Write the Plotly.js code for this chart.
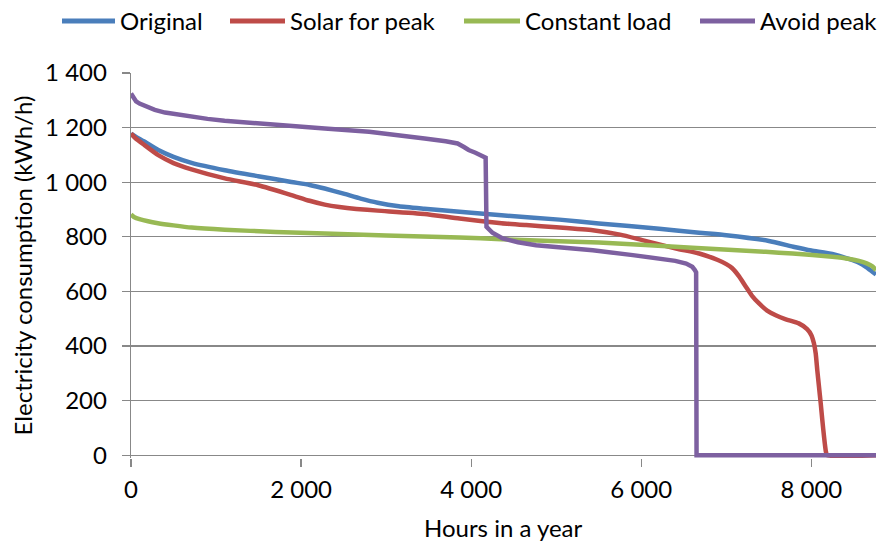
<!DOCTYPE html>
<html><head><meta charset="utf-8">
<script src="https://cdn.plot.ly/plotly-3.0.1.min.js"></script>
<style>html,body{margin:0;padding:0;background:#fff}#chart{width:880px;height:548px}</style>
</head><body><div id="chart"></div>
<script>
const seriesNames = ["Original", "Solar for peak", "Constant load", "Avoid peak"];
const seriesColors = ["#4A7EBB", "#BE4B48", "#98B954", "#7D60A0"];
const xTitle = "Hours in a year";
const yTitle = "Electricity consumption (kWh/h)";

const hoursOriginal = [0,50,150,321,500,712,1103,1495,1886,2100,2278,2500,2700,2900,3150,3450,4000,4356,5037,5500,6211,6681,7000,7500,7800,8000,8246,8450,8560,8650,8717,8760];
const original =      [1178,1168,1150,1118,1093,1071,1044,1022,1001,990,977,958,940,925,912,903,888,879,863,849,830,815,806,785,763,750,737,718,705,688,672,662];

const hoursSolar = [0,50,150,321,500,712,1103,1495,1886,2100,2278,2450,2650,2900,3450,3863,4356,4646,5000,5430,5750,6012,6410,6681,6900,7000,7070,7150,7230,7300,7385,7480,7581,7700,7852,7950,8000,8030,8051,8070,8090,8110,8129,8150,8170,8185,8760];
const solarForPeak = [1178,1162,1138,1099,1070,1047,1014,989,953,932,918,909,902,896,884,867,850,843,835,824,808,788,757,739,715,700,685,655,617,585,556,530,513,498,483,462,440,410,373,310,250,190,128,65,15,0,0];

const hoursConstant = [0,40,100,200,317,500,712,1103,1700,2278,3000,3863,4356,5500,6600,7463,7780,8246,8450,8560,8650,8717,8760];
const constantLoad =  [882,872,865,857,850,842,834,826,818,812,805,798,791,779,760,745,739,727,719,712,703,692,678];

const hoursAvoid = [0,15,35,60,100,164,280,400,550,712,900,1100,1400,1700,2000,2278,2800,3100,3452,3700,3840,3920,3970,4050,4133,4170,4180,4250,4370,4550,4763,5100,5430,5900,6212,6400,6528,6600,6630,6645,6650,8760];
const avoidPeak =  [1325,1317,1306,1296,1288,1279,1265,1255,1247,1240,1232,1225,1217,1210,1202,1197,1185,1175,1160,1150,1142,1128,1118,1108,1096,1090,837,815,794,780,769,760,751,733,721,712,702,690,678,670,0,0];

const xTicks = [0, 2000, 4000, 6000, 8000];
const yTicks = [0, 200, 400, 600, 800, 1000, 1200, 1400];

const xs = [hoursOriginal, hoursSolar, hoursConstant, hoursAvoid];
const ys = [original, solarForPeak, constantLoad, avoidPeak];
const smooth = [true, true, true, false];

const FONT = "Lato, 'Open Sans', sans-serif";
const traces = seriesNames.map((n, i) => ({
  type: 'scatter', mode: 'lines', name: n,
  x: xs[i], y: ys[i],
  line: smooth[i] ? {color: seriesColors[i], width: 4.5, shape: 'spline', smoothing: 0.5}
                  : {color: seriesColors[i], width: 4.5},
  showlegend: false
}));

// custom legend + x title (layout positions in pixels converted to paper coords)
const M = {l: 131, r: 4, t: 73, b: 90};
const W = 880, H = 548;
const pw = W - M.l - M.r, ph = H - M.t - M.b;
const px2x = p => (p - M.l) / pw;
const py2y = p => (H - M.b - p) / ph;
const legendSamples = [[62,115],[230,285],[464,520],[700,755]];
const legendY = 21;
const shapes = [], annotations = [];
seriesNames.forEach((n, i) => {
  const [a, b] = legendSamples[i];
  shapes.push({type: 'line', xref: 'paper', yref: 'paper',
    x0: px2x(a), x1: px2x(b), y0: py2y(legendY), y1: py2y(legendY),
    line: {color: seriesColors[i], width: 5}});
  annotations.push({xref: 'paper', yref: 'paper', x: px2x(b + 3), y: py2y(legendY),
    xanchor: 'left', yanchor: 'middle', text: n, showarrow: false,
    font: {family: FONT, size: 24, color: '#000'}});
});
annotations.push({xref: 'paper', yref: 'paper', x: px2x(503), y: py2y(527),
  xanchor: 'center', yanchor: 'middle', text: xTitle, showarrow: false,
  font: {family: FONT, size: 24, color: '#000'}});

const layout = {
  width: W, height: H, margin: M,
  paper_bgcolor: '#fff', plot_bgcolor: '#fff',
  font: {family: FONT, size: 24, color: '#000'},
  separators: '. ',
  showlegend: false,
  shapes, annotations,
  xaxis: {
    range: [0, 8760], tickvals: xTicks, separatethousands: true,
    ticks: 'outside', ticklen: 8, tickwidth: 1.3, tickcolor: '#888',
    showline: false, showgrid: false, zeroline: false,
    ticklabelstandoff: 2
  },
  yaxis: {
    range: [-10, 1400], tickvals: yTicks, separatethousands: true,
    ticks: 'outside', ticklen: 8, tickwidth: 1.3, tickcolor: '#888',
    showline: true, linecolor: '#888', linewidth: 1.3,
    showgrid: true, gridcolor: '#888', gridwidth: 1.3,
    zeroline: true, zerolinecolor: '#888', zerolinewidth: 1.5,
    ticklabelstandoff: 10,
    title: {text: yTitle, font: {family: FONT, size: 24}, standoff: 5}
  }
};
Plotly.newPlot('chart', traces, layout, {staticPlot: true, displayModeBar: false});
</script></body></html>
